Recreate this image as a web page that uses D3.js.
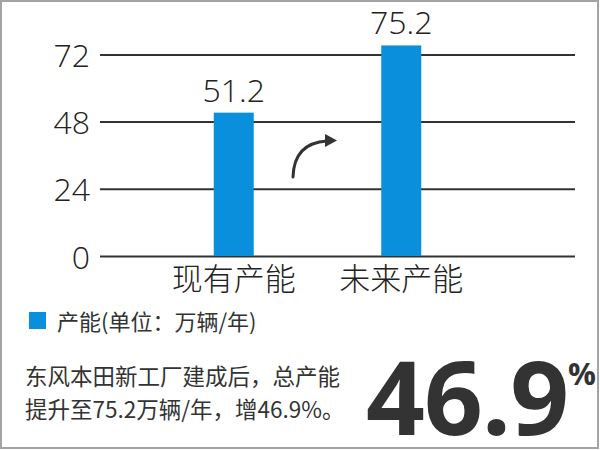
<!DOCTYPE html>
<html><head><meta charset="utf-8">
<script src="https://cdn.jsdelivr.net/npm/d3@7"></script>
<style>
html,body{margin:0;padding:0;background:#fff;}
svg{display:block;}
</style></head>
<body>
<svg id="c" width="600" height="450"></svg>
<script>
const categories = ["现有产能", "未来产能"];
const values = [51.2, 75.2];
const yTicks = [0, 24, 48, 72];
const seriesName = "产能(单位：万辆/年)";
const noteLines = ["东风本田新工厂建成后，总产能", "提升至75.2万辆/年，增46.9%。"];
const bigValue = "46.9";
const bigUnit = "%";

const svg = d3.select("#c");
const numFont = "'Open Sans', 'Segoe UI', sans-serif";
const cjkFont = "'Noto Sans CJK SC', 'Noto Sans', sans-serif";
const blue = "#0a8fdc";

// frame
svg.append("rect").attr("x",1).attr("y",1).attr("width",597).attr("height",447)
  .attr("fill","#fff").attr("stroke","#a3a3a3").attr("stroke-width",2);

const y = d3.scaleLinear().domain([0,72]).range([256,54.4]);
const x = d3.scaleBand().domain(categories).range([150,485]).padding(0);
const barW = 40;

// gridlines via axis
const gAxis = svg.append("g").attr("transform","translate(575,0)");
gAxis.call(d3.axisRight(y).tickValues(yTicks).tickSize(-475).tickFormat(""));
gAxis.select(".domain").remove();
gAxis.selectAll(".tick line").attr("stroke","#333").attr("stroke-width",2);

// tick labels
svg.append("g").selectAll("text").data(yTicks).join("text")
  .attr("x",90).attr("y",d=>y(d)).attr("text-anchor","end")
  .attr("dominant-baseline","central")
  .attr("font-family",numFont).attr("font-weight",300).attr("font-size",32)
  .attr("fill","#222").text(d=>d);

// bars
svg.append("g").selectAll("rect").data(values).join("rect")
  .attr("x",(d,i)=>x(categories[i])+x.bandwidth()/2-barW/2)
  .attr("y",d=>y(d)).attr("width",barW).attr("height",d=>y(0)-y(d))
  .attr("fill",blue);

// value labels
svg.append("g").selectAll("text").data(values).join("text")
  .attr("x",(d,i)=>x(categories[i])+x.bandwidth()/2)
  .attr("y",d=>y(d)-11).attr("text-anchor","middle")
  .attr("font-family",numFont).attr("font-weight",300).attr("font-size",32)
  .attr("fill","#222").text(d=>d.toFixed(1));

// category labels
svg.append("g").selectAll("text").data(categories).join("text")
  .attr("x",d=>x(d)+x.bandwidth()/2).attr("y",276)
  .attr("text-anchor","middle").attr("dominant-baseline","central")
  .attr("font-family",cjkFont).attr("font-weight",300).attr("font-size",31)
  .attr("fill","#222").text(d=>d);

// arrow
svg.append("path").attr("d","M293,177 Q294,143 327,141")
  .attr("fill","none").attr("stroke","#333").attr("stroke-width",3).attr("stroke-linecap","round");
svg.append("path").attr("d","M325,134 L337,140.5 L325,147 Z").attr("fill","#333");

// legend
svg.append("rect").attr("x",29).attr("y",312).attr("width",17).attr("height",17).attr("fill",blue);
svg.append("text").attr("x",57).attr("y",320).attr("dominant-baseline","central")
  .attr("font-family",cjkFont).attr("font-size",22).attr("fill","#333").text(seriesName);

// note
svg.append("g").selectAll("text").data(noteLines).join("text")
  .attr("x",25).attr("y",(d,i)=>375+i*32.5).attr("dominant-baseline","central")
  .attr("font-family",cjkFont).attr("font-size",22.5).attr("fill","#333").text(d=>d);

// big number with unit in one text
const big = svg.append("text").attr("x",366).attr("y",435)
  .attr("font-family",numFont).attr("font-weight",700).attr("fill","#333");
big.append("tspan").attr("font-size",103).attr("letter-spacing",-1).text(bigValue);
big.append("tspan").attr("font-size",31).attr("letter-spacing",0).attr("dx",0).attr("dy",-50).text(bigUnit);
</script>
</body></html>
